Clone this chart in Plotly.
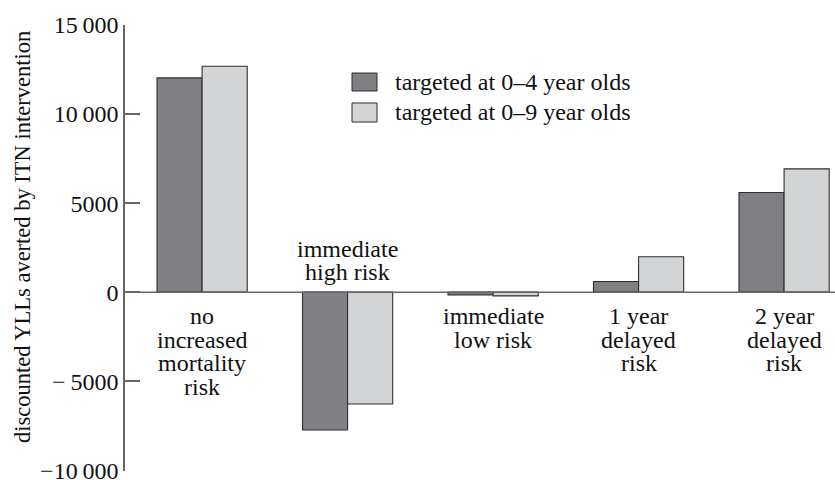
import plotly.graph_objects as go

categories = ["no increased mortality risk", "immediate high risk", "immediate low risk",
              "1 year delayed risk", "2 year delayed risk"]
label_lines = [["no", "increased", "mortality", "risk"],
               ["immediate", "high risk"],
               ["immediate", "low risk"],
               ["1 year", "delayed", "risk"],
               ["2 year", "delayed", "risk"]]
label_above = [False, True, False, False, False]
series_names = ["targeted at 0\u20134 year olds", "targeted at 0\u20139 year olds"]
vals_0_4 = [12030, -7740, -150, 600, 5600]
vals_0_9 = [12680, -6280, -210, 1990, 6920]
tick_vals = [-10000, -5000, 0, 5000, 10000, 15000]
tick_text = ["\u221210\u2009000", "\u2212\u20095000", "0", "5000", "10\u2009000", "15\u2009000"]
y_title = "discounted YLLs averted by ITN intervention"

FONT = "Liberation Serif"
FS = 24
DARK = "#808084"
LIGHT = "#d3d4d6"
EDGE = "#2e2e2e"
AXC = "#666666"

fig = go.Figure()
for name, vals, col in [(series_names[0], vals_0_4, DARK), (series_names[1], vals_0_9, LIGHT)]:
    fig.add_trace(go.Bar(x=categories, y=vals, name=name, marker_color=col,
                         marker_line_color=EDGE, marker_line_width=1.1, showlegend=False))

annotations = []
LS = 23.5
for cat, lines, above in zip(categories, label_lines, label_above):
    n = len(lines)
    for i, ln in enumerate(lines):
        if above:
            shift = 20 + (n - 1 - i) * LS
        else:
            shift = -(24 + i * LS)
        annotations.append(dict(x=cat, y=0, xref="x", yref="y", text=ln, showarrow=False,
                                xanchor="center", yanchor="middle", yshift=shift,
                                font=dict(family=FONT, size=FS, color="#111")))

# legend (manual)
px_l, px_r, px_t, px_b = 125, 835, 25, 471
W, H = px_r - px_l, px_b - px_t
def pxx(v): return (v - px_l) / W
def pxy(v): return (px_b - v) / H
shapes = []
for (top, bot), col, name in zip([(73, 91), (103, 122)], [DARK, LIGHT], series_names):
    shapes.append(dict(type="rect", xref="paper", yref="paper", x0=pxx(352), x1=pxx(377),
                       y0=pxy(bot), y1=pxy(top), fillcolor=col, line=dict(color=EDGE, width=1)))
    annotations.append(dict(x=pxx(393), y=pxy((top + bot) / 2), xref="paper", yref="paper",
                            text=name, showarrow=False, xanchor="left", yanchor="middle",
                            font=dict(family=FONT, size=FS, color="#111")))
# zero line
shapes.append(dict(type="line", xref="paper", yref="y", x0=0, x1=1, y0=0, y1=0,
                   line=dict(color=AXC, width=1.5)))
annotations.append(dict(x=pxx(22), y=pxy(237), xref="paper", yref="paper", text=y_title,
                        showarrow=False, textangle=-90, xanchor="center", yanchor="middle",
                        font=dict(family=FONT, size=22.5, color="#111")))

fig.update_layout(
    width=835, height=480, paper_bgcolor="white", plot_bgcolor="white",
    margin=dict(l=px_l, r=835 - px_r, t=px_t, b=480 - px_b, autoexpand=False),
    barmode="group", bargap=0.38, bargroupgap=0,
    annotations=annotations, shapes=shapes,
    font=dict(family=FONT, size=FS, color="#111"),
)
fig.update_xaxes(type="category", range=[-0.53, 4.35], showticklabels=False, showgrid=False,
                 zeroline=False, showline=False, ticks="", automargin=False)
fig.update_yaxes(range=[-10040, 15000], tickvals=tick_vals, ticktext=tick_text, ticks="inside",
                 ticklen=15, tickwidth=1.5, tickcolor=AXC, showline=True, linecolor=AXC, linewidth=1.5,
                 showgrid=False, zeroline=False, ticklabelstandoff=0, ticklabeloverflow="allow",
                 automargin=False,
                 tickfont=dict(family=FONT, size=FS, color="#111"))
fig.write_html("out.html", config={"displayModeBar": False},
               post_script="document.body.style.margin='0';")
